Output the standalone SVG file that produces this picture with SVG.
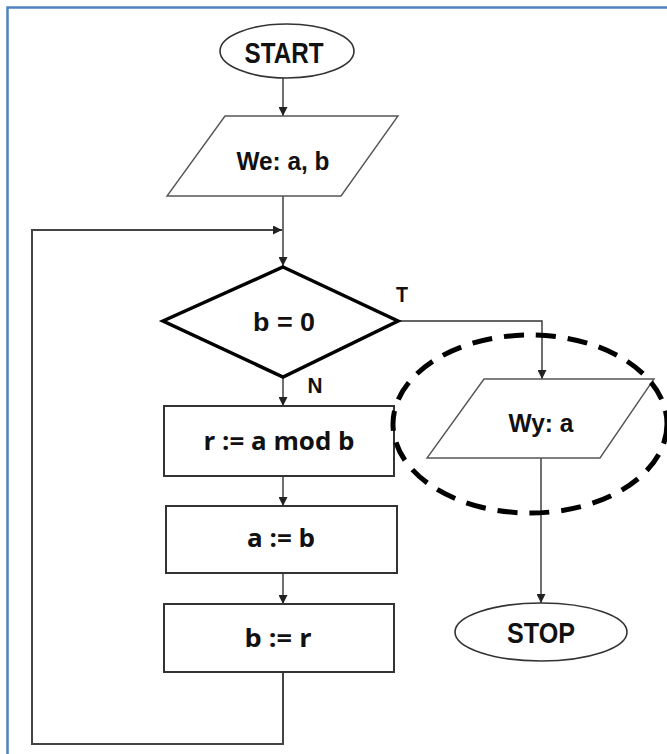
<svg xmlns="http://www.w3.org/2000/svg" width="667" height="754" viewBox="0 0 667 754">
  <defs>
    <marker id="arrow" viewBox="0 0 10 10" refX="10" refY="5" markerWidth="9" markerHeight="9" markerUnits="userSpaceOnUse" orient="auto">
      <path d="M0,0 L10,5 L0,10 Z" fill="#222"/>
    </marker>
  </defs>
  <style>
    .frame { fill: none; stroke: #4f81bd; stroke-width: 2.5; }
    .term { fill: #fff; stroke: #333; stroke-width: 1.6; }
    .io { fill: #fff; stroke: #555; stroke-width: 1.4; }
    .proc { fill: #fff; stroke: #333; stroke-width: 2; }
    .dec { fill: #fff; stroke: #000; stroke-width: 3.5; stroke-linejoin: miter; }
    .wire { fill: none; stroke: #333; stroke-width: 1.4; }
    .loop { fill: none; stroke: #444; stroke-width: 2; }
    .mark { fill: none; stroke: #000; stroke-width: 5; stroke-dasharray: 20 12; }
    .lbl { font-family: "Liberation Sans", Arial, sans-serif; font-weight: bold; fill: #111; text-anchor: middle; }
    .plbl { font-family: "Open Sans", "DejaVu Sans", sans-serif; font-weight: bold; fill: #111; text-anchor: middle; }
  </style>

  <rect width="667" height="754" fill="#fff"/>
  <rect class="frame" x="7.5" y="7.5" width="720" height="800"/>

  <!-- connectors -->
  <g id="connectors">
    <line class="wire" x1="283" y1="78" x2="283" y2="116" marker-end="url(#arrow)"/>
    <line class="wire" x1="283" y1="196" x2="283" y2="266" marker-end="url(#arrow)"/>
    <polyline class="loop" points="283,672 283,744 32,744 32,230 282,230" marker-end="url(#arrow)"/>
    <line class="wire" x1="283" y1="377" x2="283" y2="406" marker-end="url(#arrow)"/>
    <line class="wire" x1="283" y1="476" x2="283" y2="506" marker-end="url(#arrow)"/>
    <line class="wire" x1="283" y1="573" x2="283" y2="604" marker-end="url(#arrow)"/>
    <polyline class="wire" points="398,321 542,321 542,379" marker-end="url(#arrow)"/>
    <line class="wire" x1="541" y1="458" x2="541" y2="603" marker-end="url(#arrow)"/>
    <text class="lbl" x="402" y="302" font-size="22" textLength="12" lengthAdjust="spacingAndGlyphs">T</text>
    <text class="lbl" x="315" y="393" font-size="22" textLength="15" lengthAdjust="spacingAndGlyphs">N</text>
  </g>

  <g id="start">
    <ellipse class="term" cx="287" cy="51" rx="67" ry="27"/>
    <text class="lbl" x="284" y="63" font-size="29" textLength="79" lengthAdjust="spacingAndGlyphs">START</text>
  </g>

  <g id="input">
    <polygon class="io" points="225,116 398,116 341,196 167,196"/>
    <text class="lbl" x="283" y="170" font-size="26" textLength="93" lengthAdjust="spacingAndGlyphs">We: a, b</text>
  </g>

  <g id="decision">
    <polygon class="dec" points="283,267 398,321 283,377 163,321"/>
    <text class="lbl" x="284" y="331" font-size="25" textLength="62" lengthAdjust="spacingAndGlyphs">b = 0</text>
  </g>

  <g id="mod">
    <rect class="proc" x="164" y="406" width="230" height="70"/>
    <text class="plbl" x="279" y="450" font-size="25" textLength="151" lengthAdjust="spacingAndGlyphs">r := a mod b</text>
  </g>

  <g id="assign-a">
    <rect class="proc" x="166" y="506" width="231" height="67"/>
    <text class="plbl" x="281" y="547" font-size="25" textLength="68" lengthAdjust="spacingAndGlyphs">a := b</text>
  </g>

  <g id="assign-b">
    <rect class="proc" x="164" y="604" width="230" height="68"/>
    <text class="plbl" x="278" y="647" font-size="25" textLength="67" lengthAdjust="spacingAndGlyphs">b := r</text>
  </g>

  <g id="output">
    <polygon class="io" points="484,379 654,379 600,458 427,458"/>
    <text class="lbl" x="541" y="432" font-size="26" textLength="65" lengthAdjust="spacingAndGlyphs">Wy: a</text>
  </g>

  <g id="highlight">
    <ellipse class="mark" cx="530" cy="424" rx="137" ry="89"/>
  </g>

  <g id="stop">
    <ellipse class="term" cx="541" cy="632" rx="86" ry="29"/>
    <text class="lbl" x="541" y="643" font-size="29" textLength="68" lengthAdjust="spacingAndGlyphs">STOP</text>
  </g>
</svg>
